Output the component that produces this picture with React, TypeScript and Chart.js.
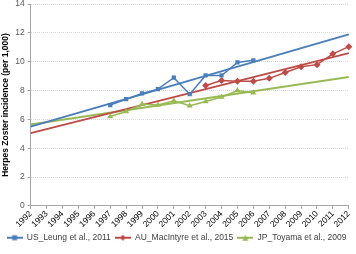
import React, { useEffect, useRef } from "react";
import { Chart, registerables } from "chart.js";

Chart.register(...registerables);

const years = ["1992","1993","1994","1995","1996","1997","1998","1999","2000","2001","2002","2003","2004","2005","2006","2007","2008","2009","2010","2011","2012"];

const usData = [null, null, null, null, null, 7.0, 7.4, 7.8, 8.1, 8.9, 7.75, 9.05, 9.05, 9.95, 10.1, null, null, null, null, null, null];
const auData = [null, null, null, null, null, null, null, null, null, null, null, 8.35, 8.7, 8.65, 8.65, 8.85, 9.25, 9.65, 9.8, 10.55, 11.05];
const jpData = [null, null, null, null, null, 6.2, 6.55, 7.05, 7.0, 7.3, 6.95, 7.25, 7.55, 8.0, 7.85, null, null, null, null, null, null];

// trend lines: value at first and last year
const usTrend = [5.5, 11.9];
const auTrend = [5.05, 10.6];
const jpTrend = [5.65, 8.95];

const seriesNames = ["US_Leung et al., 2011", "AU_MacIntyre et al., 2015", "JP_Toyama et al., 2009"];

const BLUE = "#4A7EBB";
const RED = "#BE4B48";
const GREEN = "#98B954";

function trendArray(t: number[]) {
  const arr: (number | null)[] = years.map(() => null);
  arr[0] = t[0];
  arr[arr.length - 1] = t[1];
  return arr;
}

function legendIcon(color: string, style: string) {
  const c = document.createElement("canvas");
  c.width = 16;
  c.height = 8;
  const ctx = c.getContext("2d")!;
  ctx.strokeStyle = color;
  ctx.lineWidth = 2;
  ctx.beginPath();
  ctx.moveTo(0, 4);
  ctx.lineTo(16, 4);
  ctx.stroke();
  ctx.fillStyle = color;
  ctx.beginPath();
  if (style === "rect") {
    ctx.rect(5.5, 1.5, 5, 5);
  } else if (style === "rectRot") {
    ctx.moveTo(8, 1);
    ctx.lineTo(11, 4);
    ctx.lineTo(8, 7);
    ctx.lineTo(5, 4);
    ctx.closePath();
  } else {
    ctx.moveTo(8, 1);
    ctx.lineTo(11, 7);
    ctx.lineTo(5, 7);
    ctx.closePath();
  }
  ctx.fill();
  return c;
}

export default function App() {
  const ref = useRef<HTMLCanvasElement | null>(null);
  useEffect(() => {
    if (!ref.current) return;
    const colors = [BLUE, RED, GREEN];
    const styles = ["rect", "rectRot", "triangle"];
    const dataSets = [usData, auData, jpData];
    const trends = [usTrend, auTrend, jpTrend];
    const datasets: any[] = [];
    for (let i = 0; i < 3; i++) {
      datasets.push({
        label: seriesNames[i],
        data: dataSets[i],
        borderColor: colors[i],
        backgroundColor: colors[i],
        borderWidth: 1.5,
        pointStyle: styles[i],
        pointRadius: styles[i] === "rect" ? 3 : 3.5,
        pointBorderWidth: 0,
        spanGaps: false,
        order: 1,
      });
    }
    for (let i = 0; i < 3; i++) {
      datasets.push({
        label: "trend" + i,
        data: trendArray(trends[i]),
        borderColor: colors[i],
        backgroundColor: colors[i],
        borderWidth: 2,
        pointRadius: 0,
        spanGaps: true,
        order: 2,
      });
    }
    const chart = new Chart(ref.current, {
      type: "line",
      data: { labels: years, datasets },
      options: {
        animation: false,
        responsive: false,
        maintainAspectRatio: false,
        layout: { padding: { left: 0, right: 3, top: 0, bottom: 2 } },
        plugins: {
          tooltip: { enabled: false },
          legend: {
            position: "bottom",
            labels: {
              font: { family: "Liberation Sans, Arial", size: 8.5 },
              color: "#404040",
              boxHeight: 8,
              boxWidth: 16,
              pointStyleWidth: 16,
              padding: 4,
              usePointStyle: true,
              generateLabels: (ch: any) =>
                ch.data.datasets.slice(0, 3).map((d: any, i: number) => ({
                  text: d.label,
                  datasetIndex: i,
                  pointStyle: legendIcon(colors[i], styles[i]),
                  fontColor: "#404040",
                  lineWidth: 0,
                  strokeStyle: colors[i],
                  fillStyle: colors[i],
                })),
            },
          },
        },
        scales: {
          x: {
            type: "category",
            offset: false,
            grid: { display: true, drawOnChartArea: false, tickLength: 3, color: "#A6A6A6" },
            border: { color: "#A6A6A6" },
            ticks: {
              autoSkip: false,
              maxRotation: 45,
              minRotation: 45,
              color: "#000000",
              font: { family: "Liberation Sans, Arial", size: 8.5 },
              padding: 0,
            },
          },
          y: {
            min: 0,
            max: 14,
            ticks: {
              stepSize: 2,
              color: "#595959",
              font: { family: "Liberation Sans, Arial", size: 8.5 },
              padding: 3,
            },
            grid: {
              color: "#D9D9D9",
              tickLength: 3,
              tickColor: "#A6A6A6",
            },
            border: { color: "#A6A6A6", dash: [1, 1] },
            title: {
              display: true,
              text: "Herpes Zoster incidence (per 1,000)",
              color: "#000000",
              font: { family: "Liberation Sans, Arial", size: 8.5, weight: "bold" },
              padding: 1,
            },
          },
        },
      },
    });
    return () => chart.destroy();
  }, []);
  return (
    <div style={{ position: "absolute", left: 0, top: -4, width: 356, height: 258, overflow: "hidden" }}>
      <canvas ref={ref} width={356} height={258} style={{ width: 356, height: 258 }} />
    </div>
  );
}
